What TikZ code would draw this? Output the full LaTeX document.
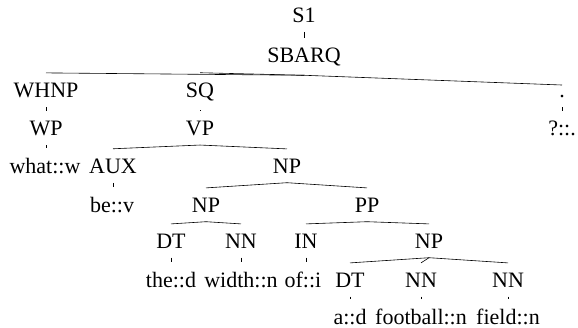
\documentclass[tikz,border=0pt]{standalone}
\usepackage{fontspec}
\setmainfont{Liberation Serif}
\begin{document}
\begin{tikzpicture}[x=1pt,y=-1pt,
  lbl/.style={anchor=base,inner xsep=0pt,inner ysep=9.5pt,font=\fontsize{22}{26}\selectfont},
  br/.style={line width=0.6pt}]
\useasboundingbox (0,0) rectangle (578,327);
\node[lbl] (S1) at (304,22) {S1};
\node[lbl] (SBARQ) at (304,62) {SBARQ};
\node[lbl] (WHNP) at (46,97) {WHNP};
\node[lbl] (SQ) at (200,97) {SQ};
\node[lbl] (DOT) at (562,97) {.};
\node[lbl] (WP) at (46,135) {WP};
\node[lbl] (VP) at (200,135) {VP};
\node[lbl] (Q) at (562,135) {?::.};
\node[lbl] (WHAT) at (45,173) {what::w};
\node[lbl] (AUX) at (113,173) {AUX};
\node[lbl] (NPa) at (287,173) {NP};
\node[lbl] (BE) at (112,212) {be::v};
\node[lbl] (NPb) at (206,212) {NP};
\node[lbl] (PP) at (367,212) {PP};
\node[lbl] (DT1) at (171,248) {DT};
\node[lbl] (NN1) at (241,248) {NN};
\node[lbl] (IN) at (306,248) {IN};
\node[lbl] (NPc) at (429,248) {NP};
\node[lbl] (THE) at (171,287) {the::d};
\node[lbl] (WIDTH) at (241,287) {width::n};
\node[lbl] (OF) at (303,287) {of::i};
\node[lbl] (DT2) at (350,287) {DT};
\node[lbl] (NN2) at (421,287) {NN};
\node[lbl] (NN3) at (508,287) {NN};
\node[lbl] (A) at (350,324) {a::d};
\node[lbl] (FOOT) at (421,324) {football::n};
\node[lbl] (FIELD) at (508,324) {field::n};
% unary ticks: straight down from the parent
\draw[br] (S1.south) -- (S1.south |- SBARQ.north);
\draw[br] (WHNP.south) -- (WHNP.south |- WP.north);
\draw[br] (SQ.south) -- (SQ.south |- VP.north);
\draw[br] (DOT.south) -- (DOT.south |- Q.north);
\draw[br] (WP.south) -- (WP.south |- WHAT.north);
\draw[br] (AUX.south) -- (AUX.south |- BE.north);
\draw[br] (DT1.south) -- (DT1.south |- THE.north);
\draw[br] (NN1.south) -- (NN1.south |- WIDTH.north);
\draw[br] (IN.south) -- (IN.south |- OF.north);
\draw[br] (DT2.south) -- (DT2.south |- A.north);
\draw[br] (NN2.south) -- (NN2.south |- FOOT.north);
\draw[br] (NN3.south) -- (NN3.south |- FIELD.north);
% branches
\draw[br] (SBARQ.south) -- (WHNP.north);
\draw[br] (SBARQ.south) -- (SQ.north);
\draw[br] (SBARQ.south) -- (DOT.north);
\draw[br] (VP.south) -- (AUX.north);
\draw[br] (VP.south) -- (NPa.north);
\draw[br] (NPa.south) -- (NPb.north);
\draw[br] (NPa.south) -- (PP.north);
\draw[br] (NPb.south) -- (DT1.north);
\draw[br] (NPb.south) -- (NN1.north);
\draw[br] (PP.south) -- (IN.north);
\draw[br] (PP.south) -- (NPc.north);
\draw[br] (NPc.south) -- (DT2.north);
\draw[br] (NPc.south) -- (NN2.north);
\draw[br] (NPc.south) -- (NN3.north);
\end{tikzpicture}
\end{document}
